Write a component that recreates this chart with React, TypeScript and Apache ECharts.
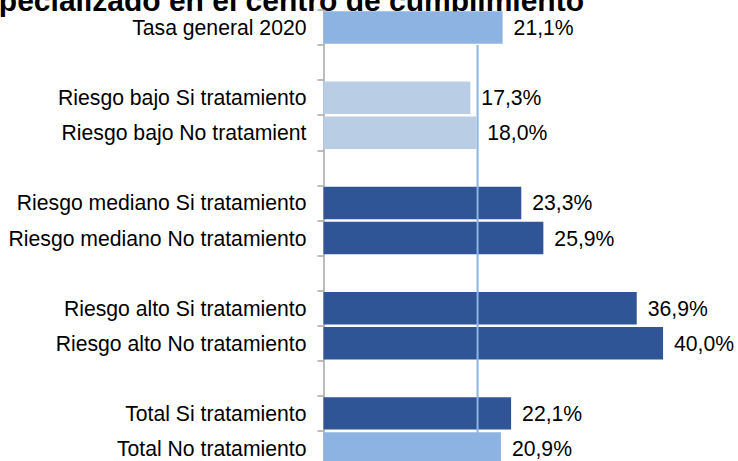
import React, { useEffect, useRef } from "react";
import * as echarts from "echarts";

const categories = [
  "Tasa general 2020",
  "",
  "Riesgo bajo Si tratamiento",
  "Riesgo bajo No tratamient",
  " ",
  "Riesgo mediano Si tratamiento",
  "Riesgo mediano No tratamiento",
  "  ",
  "Riesgo alto Si tratamiento",
  "Riesgo alto No tratamiento",
  "   ",
  "Total Si tratamiento",
  "Total No tratamiento",
];
const values: (number | null)[] = [21.1, null, 17.3, 18.0, null, 23.3, 25.9, null, 36.9, 40.0, null, 22.1, 20.9];
const colorGroups = ["general", "", "bajo", "bajo", "", "alto", "alto", "", "alto", "alto", "", "alto", "general"];
const refValue = 18.15;
const refLineSpan = [[refValue, 1], [refValue, 13]];
const titleText = "especializado en el centro de cumplimiento";

const palette: Record<string, string> = {
  general: "#8DB3E2",
  bajo: "#B9CDE5",
  alto: "#2F5597",
};

export default function App() {
  const ref = useRef<HTMLDivElement>(null);
  useEffect(() => {
    if (!ref.current) return;
    const chart = echarts.init(ref.current, null, { renderer: "svg" });
    const font = "Liberation Sans, Arial, sans-serif";
    chart.setOption({
      animation: false,
      grid: { left: 323.5, right: 32.5, top: 10, bottom: 4, containLabel: false },
      xAxis: [
        { type: "value", min: 0, max: 45, show: false },
      ],
      yAxis: [
        {
          type: "category",
          data: categories,
          inverse: true,
          axisLine: { show: true, lineStyle: { color: "#A6A6A6", width: 1.5 } },
          axisTick: { show: true, length: 6, lineStyle: { color: "#A6A6A6", width: 1.5 } },
          axisLabel: { color: "#000", fontSize: 21.2, fontFamily: font, margin: 17 },
          splitLine: { show: false },
        },
        {
          type: "value",
          min: 0,
          max: 13,
          inverse: true,
          show: false,
        },
      ],
      graphic: [
        {
          type: "text",
          x: 584,
          y: 15,
          z: 0,
          style: {
            text: titleText,
            fill: "#000",
            font: "bold 30px Liberation Sans, Arial, sans-serif",
            textAlign: "right",
            textVerticalAlign: "bottom",
          },
        },
      ],
      series: [
        {
          type: "bar",
          yAxisIndex: 0,
          barCategoryGap: "7.5%",
          data: values.map((v, i) => ({
            value: v,
            itemStyle: { color: palette[colorGroups[i]] || "#8DB3E2" },
          })),
          label: {
            show: true,
            position: "right",
            distance: 11,
            color: "#000",
            fontSize: 21.2,
            fontFamily: font,
            formatter: (p: any) => (p.value == null ? "" : p.value.toFixed(1).replace(".", ",") + "%"),
          },
          z: 2,
        },
        {
          type: "line",
          yAxisIndex: 1,
          data: refLineSpan,
          symbol: "none",
          lineStyle: { color: "#8DB3E2", width: 2 },
          z: 3,
        },
      ],
    });
    return () => chart.dispose();
  }, []);
  return (
    <div
      ref={ref}
      style={{ position: "fixed", left: 0, top: 0, width: 738, height: 470, background: "#fff" }}
    />
  );
}
